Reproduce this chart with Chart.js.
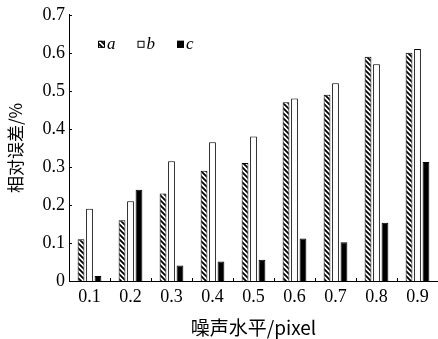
<!DOCTYPE html>
<html>
<head>
<meta charset="utf-8">
<script src="https://cdn.jsdelivr.net/npm/chart.js@4/dist/chart.umd.min.js"></script>
<style>
  html, body { margin: 0; padding: 0; background: #fff; }
  #wrap { width: 438px; height: 339px; }
</style>
</head>
<body>
<div id="wrap"><canvas id="chart"></canvas></div>
<script>
// 噪声水平
const noiseLevels = ['0.1', '0.2', '0.3', '0.4', '0.5', '0.6', '0.7', '0.8', '0.9'];
// 相对误差 (%)
const seriesA = [0.11, 0.16, 0.23, 0.29, 0.31, 0.47, 0.49, 0.59, 0.60];
const seriesB = [0.19, 0.21, 0.315, 0.365, 0.38, 0.48, 0.52, 0.57, 0.61];
const seriesC = [0.013, 0.24, 0.041, 0.051, 0.056, 0.112, 0.102, 0.153, 0.313];
const seriesNames = ['a', 'b', 'c'];

const serif = "'Liberation Serif', 'DejaVu Serif', serif";
const cjk = "'Noto Sans CJK SC', 'Liberation Serif', serif";

// 斜线填充パターン
function makeHatch() {
    const s = 5;
    const c = document.createElement('canvas');
    c.width = s; c.height = s;
    const g = c.getContext('2d');
    g.fillStyle = '#fff';
    g.fillRect(0, 0, s, s);
    g.strokeStyle = '#000';
    g.lineWidth = 1.8;
    g.beginPath();
    g.moveTo(-1, -1); g.lineTo(s + 1, s + 1);
    g.moveTo(-1, s - 1); g.lineTo(1, s + 1);
    g.moveTo(s - 1, -1); g.lineTo(s + 1, 1);
    g.stroke();
    return g.createPattern(c, 'repeat');
}
const hatch = makeHatch();
const fills = [hatch, '#ffffff', '#000000'];

// 内向きの目盛りと凡例
const extras = {
    id: 'extras',
    afterDraw(chart) {
        const ctx = chart.ctx;
        const area = chart.chartArea;
        const xs = chart.scales.x;
        const ys = chart.scales.y;
        ctx.save();
        ctx.strokeStyle = '#000';
        ctx.lineWidth = 1;
        ys.ticks.forEach(t => {
            const y = Math.round(ys.getPixelForValue(t.value)) + 0.5;
            ctx.beginPath();
            ctx.moveTo(area.left, y);
            ctx.lineTo(area.left + 3, y);
            ctx.stroke();
        });
        for (let i = 0; i < noiseLevels.length - 1; i++) {
            const x = Math.round((xs.getPixelForValue(i) + xs.getPixelForValue(i + 1)) / 2) + 0.5;
            ctx.beginPath();
            ctx.moveTo(x, area.bottom);
            ctx.lineTo(x, area.bottom - 3);
            ctx.stroke();
        }
        // 凡例
        const y0 = area.top + 26;
        chart.data.datasets.forEach((ds, i) => {
            const x0 = area.left + 29 + i * 39.5;
            ctx.fillStyle = fills[i];
            ctx.fillRect(x0, y0, 7, 7);
            ctx.strokeStyle = '#000';
            ctx.strokeRect(x0 + 0.5, y0 + 0.5, 6, 6);
            ctx.fillStyle = '#000';
            ctx.font = 'italic 17px ' + serif;
            ctx.textBaseline = 'middle';
            ctx.fillText(ds.label, x0 + 9, y0 + 4);
        });
        ctx.restore();
    }
};

new Chart(document.getElementById('chart'), {
    type: 'bar',
    data: {
        labels: noiseLevels,
        datasets: [seriesA, seriesB, seriesC].map((d, i) => ({
            label: seriesNames[i],
            data: d,
            backgroundColor: fills[i],
            borderColor: '#000',
            borderWidth: 1,
            barPercentage: 0.8,
            categoryPercentage: 0.62
        }))
    },
    options: {
        responsive: true,
        maintainAspectRatio: false,
        animation: false,
        layout: { padding: { top: 14, right: 0, left: 0, bottom: 0 } },
        plugins: {
            legend: { display: false },
            tooltip: { enabled: false }
        },
        scales: {
            x: {
                offset: true,
                grid: { display: false, drawTicks: false },
                border: { display: true, color: '#000', width: 1 },
                ticks: { color: '#000', font: { family: serif, size: 18 }, padding: 5, maxRotation: 0 },
                title: {
                    display: true,
                    text: '噪声水平/pixel',
                    color: '#000',
                    font: { family: cjk, size: 19 },
                    padding: { top: 4, bottom: 0 }
                },
                afterFit(scale) { scale.height = 58; }
            },
            y: {
                min: 0,
                max: 0.7,
                grid: { display: false, drawTicks: false },
                border: { display: true, color: '#000', width: 1 },
                ticks: {
                    stepSize: 0.1,
                    color: '#000',
                    font: { family: serif, size: 18 },
                    padding: 4,
                    callback: v => (v === 0 ? '0' : v.toFixed(1))
                },
                title: {
                    display: true,
                    text: '相对误差/%',
                    color: '#000',
                    font: { family: cjk, size: 17 },
                    padding: { top: 5, bottom: 2 }
                },
                afterFit(scale) { scale.width = 69; }
            }
        }
    },
    plugins: [extras]
});
</script>
</body>
</html>
